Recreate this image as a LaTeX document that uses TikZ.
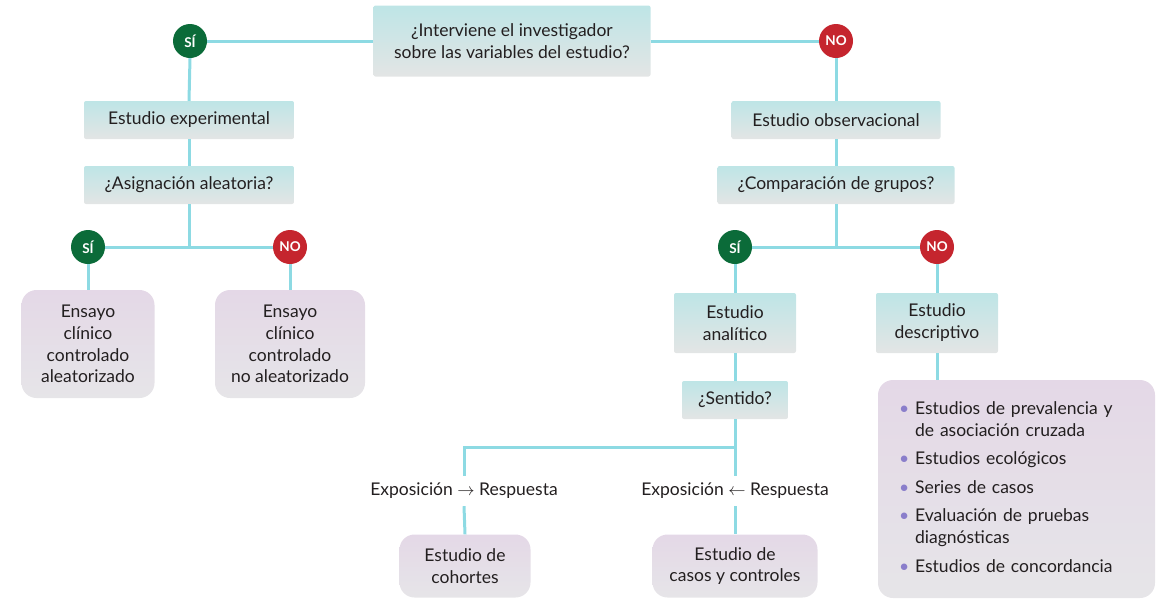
\documentclass[tikz,border=0pt]{standalone}
\usepackage{fontspec}
\setmainfont{Lato}
\usetikzlibrary{positioning}

\definecolor{linea}{HTML}{8DDAE3}
\definecolor{cajac}{HTML}{BEE5E6}
\definecolor{cajagris}{HTML}{E3E5E5}
\definecolor{tipoc}{HTML}{E4D8E7}
\definecolor{tipogris}{HTML}{E6E5E8}
\definecolor{verde}{HTML}{0B6B39}
\definecolor{rojo}{HTML}{C5252E}
\definecolor{punto}{HTML}{8A7ECB}
\definecolor{textc}{HTML}{231F20}

\tikzset{
  caja/.style={rectangle, rounded corners=2pt, top color=cajac, middle color=cajac,
    bottom color=cajagris, minimum height=38pt, align=center, text=textc,
    font=\fontsize{17.5}{22}\selectfont},
  tipo/.style={rectangle, rounded corners=15pt, top color=tipoc, middle color=tipoc,
    bottom color=tipogris, align=center, text=textc,
    font=\fontsize{17.5}{21.7}\selectfont},
  si/.style={circle, fill=verde, text=white, minimum size=34pt, inner sep=0pt,
    font=\bfseries\fontsize{13.5}{13.5}\selectfont},
  no/.style={si, fill=rojo},
  etiqueta/.style={text=textc, inner sep=0pt, minimum height=30pt,
    font=\fontsize{17.5}{20}\selectfont},
  rama/.style={draw=linea, line width=3pt}
}

\begin{document}
\begin{tikzpicture}[x=1pt,y=-1pt]
\useasboundingbox (0,0) rectangle (1162,614);

% pregunta inicial
\node[caja, minimum width=277pt, minimum height=71pt] (pregunta) at (512,41)
  {¿Interviene el investigador\\sobre las variables del estudio?};
\node[si] (si1) at (190,41) {SÍ};
\node[no] (no1) at (836,41) {NO};

% rama experimental
\node[caja, minimum width=210pt] (exp) at (189,120) {Estudio experimental};
\node[caja, minimum width=210pt] (asig) at (189,185) {¿Asignación aleatoria?};
\node[si] (si2) at (88,247) {SÍ};
\node[no] (no2) at (290,247) {NO};
\node[tipo, minimum width=133pt, minimum height=108pt] (eca) at (88,344)
  {Ensayo\\clínico\\controlado\\aleatorizado};
\node[tipo, minimum width=150pt, minimum height=108pt] (ecna) at (290,344)
  {Ensayo\\clínico\\controlado\\no aleatorizado};

% rama observacional
\node[caja, minimum width=209pt] (obs) at (836,120) {Estudio observacional};
\node[caja, minimum width=237pt] (comp) at (836,185) {¿Comparación de grupos?};
\node[si] (si3) at (735,247) {SÍ};
\node[no] (no3) at (937,247) {NO};
\node[caja, minimum width=122pt, minimum height=60pt] (anal) at (735,323)
  {Estudio\\analítico};
\node[caja, minimum width=122pt, minimum height=60pt] (desc) at (937,323)
  {Estudio\\descriptivo};
\node[caja, minimum width=106pt] (sent) at (735,400) {¿Sentido?};
\node[etiqueta] (expresp) at (464,491) {Exposición $\rightarrow$ Respuesta};
\node[etiqueta] (respexp) at (735,491) {Exposición $\leftarrow$ Respuesta};
\node[tipo, minimum width=131pt, minimum height=63pt] (coh) at (465,566)
  {Estudio de\\cohortes};
\node[tipo, minimum width=165pt, minimum height=63pt] (cyc) at (735,566)
  {Estudio de\\casos y controles};
\node[tipo, text width=235pt, inner xsep=21pt, minimum height=218pt, align=left,
  font=\fontsize{17.5}{22}\selectfont] (lista) at (1016.5,489)
  {\begin{tabular}{@{}l@{\hspace{6pt}}l@{}}
   \textcolor{punto}{\textbullet} & Estudios de prevalencia y\\
     & de asociación cruzada\\[6.5pt]
   \textcolor{punto}{\textbullet} & Estudios ecológicos\\[6.5pt]
   \textcolor{punto}{\textbullet} & Series de casos\\[6.5pt]
   \textcolor{punto}{\textbullet} & Evaluación de pruebas\\
     & diagnósticas\\[6.5pt]
   \textcolor{punto}{\textbullet} & Estudios de concordancia
   \end{tabular}};

% conectores
\draw[rama] (si1.east) -- (pregunta.west);
\draw[rama] (pregunta.east) -- (no1.west);
\draw[rama] (si1.south) -- (exp.north);
\draw[rama] (exp.south) -- (asig.north);
\draw[rama] (asig.south) -- (asig.south |- si2.center);
\draw[rama] (si2.east) -- (no2.west);
\draw[rama] (si2.south) -- (eca.north);
\draw[rama] (no2.south) -- (ecna.north);
\draw[rama] (no1.south) -- (obs.north);
\draw[rama] (obs.south) -- (comp.north);
\draw[rama] (comp.south) -- (comp.south |- si3.center);
\draw[rama] (si3.east) -- (no3.west);
\draw[rama] (si3.south) -- (anal.north);
\draw[rama] (no3.south) -- (desc.north);
\draw[rama] (anal.south) -- (sent.north);
\draw[rama] (desc.south) -- (desc.south |- lista.north);
\coordinate (cruce) at (735,447);
\draw[rama] (sent.south) -- (respexp.north);
\draw[rama] (cruce) -| (expresp.north);
\draw[rama] (expresp.south) -- (coh.north);
\draw[rama] (respexp.south) -- (cyc.north);
\end{tikzpicture}
\end{document}
